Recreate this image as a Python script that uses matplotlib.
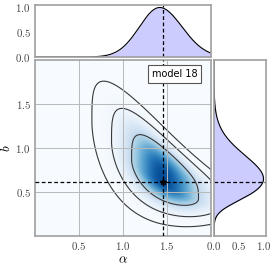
import numpy as np
import matplotlib
matplotlib.use('Agg')
import matplotlib.pyplot as plt
from matplotlib.ticker import FuncFormatter

plt.rcParams['mathtext.fontset'] = 'cm'

# ---------------- data ----------------
label_text = 'model 18'
best_alpha = 1.455
best_b = 0.615
sigma_alpha = [0.235, 0.265]     # width of posterior left / right of mode
sigma_b = [0.14, 0.305]          # width below / above the ridge
upper_power = 3.4                # flatter profile above the ridge
ridge_coef = [-0.6, 0.32]        # ridge b(alpha): linear, quadratic
scale_low = [-0.8, 0.0]          # log-scale of lower spread: linear, quadratic
scale_up = [-0.6, -0.25]         # log-scale of upper spread: linear, quadratic
contour_radii = [1.52, 2.49, 3.44]
main_ticks = [0.5, 1.0, 1.5]
marg_ticks = [0.0, 0.5, 1.0]
alpha_range = [0.0, 2.0]
b_range = [0.0, 2.0]

# ---------------- posterior grid ----------------
a = np.linspace(0, 3.0, 601)
b = np.linspace(0, 2.5, 501)
A, B = np.meshgrid(a, b)
d = A - best_alpha
ridge = best_b + ridge_coef[0] * d + ridge_coef[1] * d ** 2
v = B - ridge
sa = np.where(d < 0, sigma_alpha[0], sigma_alpha[1])
s_lo = sigma_b[0] * np.exp(scale_low[0] * d + scale_low[1] * d ** 2)
s_up = sigma_b[1] * np.exp(scale_up[0] * d + scale_up[1] * d ** 2)
Qv = np.where(v < 0, (v / s_lo) ** 2, np.abs(v / s_up) ** upper_power)
Q = (d / sa) ** 2 + Qv
P = np.exp(-0.5 * Q)

marg_a = P.sum(axis=0)
marg_a = marg_a / marg_a.max()
marg_b = P.sum(axis=1)
marg_b = marg_b / marg_b.max()
levels = sorted(np.exp(-0.5 * np.array(contour_radii) ** 2))

# ---------------- figure ----------------
fig = plt.figure(figsize=(2.74, 2.68), dpi=100)
ax = fig.add_axes([35 / 274, 32 / 268, 176 / 274, 176 / 268])
ax_top = fig.add_axes([35 / 274, 211 / 268, 176 / 274, 52 / 268])
ax_r = fig.add_axes([214 / 274, 32 / 268, 52 / 274, 176 / 268])

fmt = FuncFormatter(lambda x, p: f'${x:.1f}$')
spine_col = '#a0a0a0'
fill_col = '#ccccff'

ax.imshow(P, extent=[a[0], a[-1], b[0], b[-1]], origin='lower', cmap='Blues',
          vmin=0, vmax=1.12, aspect='auto', interpolation='bilinear', zorder=0)
ax.contour(A, B, P, levels=levels, colors='#383838', linewidths=0.8, zorder=1)
ax.set_xlim(alpha_range)
ax.set_ylim(b_range)
ax.set_xticks(main_ticks)
ax.set_yticks(main_ticks)
ax.xaxis.set_major_formatter(fmt)
ax.yaxis.set_major_formatter(fmt)
ax.grid(True, color='#b8b8b8', lw=0.7, zorder=1.5)
ax.axvline(best_alpha, color='k', ls='--', lw=0.9, dashes=(3, 2), zorder=3)
ax.axhline(best_b, color='k', ls='--', lw=0.9, dashes=(3, 2), zorder=3)
ax.plot([best_alpha], [best_b], marker='*', color='k', ms=4, zorder=4)
ax.set_xlabel(r'$\alpha$', fontsize=9.5, labelpad=1)
ax.set_ylabel(r'$b$', fontsize=9.5)
ax.yaxis.set_label_coords(-0.125, 0.5)
ax.text(0.792, 0.919, label_text, transform=ax.transAxes, ha='center',
        va='center', fontsize=7, zorder=5,
        bbox=dict(boxstyle='square,pad=0.4', fc='white', ec='#555555', lw=0.8))

# top marginal
ax_top.fill_between(a, 0, marg_a, color=fill_col, lw=0)
ax_top.plot(a, marg_a, color='k', lw=0.8)
ax_top.axvline(best_alpha, color='k', ls='--', lw=0.9, dashes=(3, 2))
ax_top.set_xlim(alpha_range)
ax_top.set_ylim(0, 1.05)
ax_top.set_yticks(marg_ticks)
ax_top.yaxis.set_major_formatter(fmt)
ax_top.set_xticks([])

# right marginal
ax_r.fill_betweenx(b, 0, marg_b, color=fill_col, lw=0)
ax_r.plot(marg_b, b, color='k', lw=0.8)
ax_r.axhline(best_b, color='k', ls='--', lw=0.9, dashes=(3, 2))
ax_r.set_ylim(b_range)
ax_r.set_xlim(0, 1.05)
ax_r.set_xticks(marg_ticks)
ax_r.xaxis.set_major_formatter(fmt)
ax_r.set_yticks([])

for axx in (ax, ax_top, ax_r):
    axx.tick_params(length=0, pad=3, labelsize=7.8, colors='#444444')
    for s in axx.spines.values():
        s.set_color(spine_col)
        s.set_linewidth(1.2)

fig.savefig('out.png', dpi=100)
